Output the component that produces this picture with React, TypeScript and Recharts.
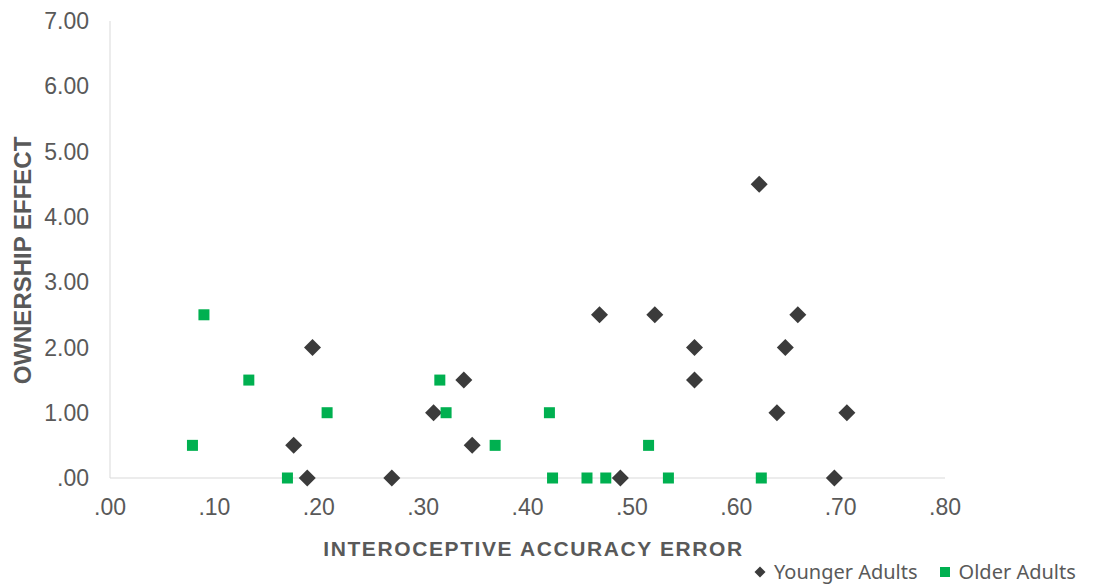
import React from "react";
import { Legend, Scatter, ScatterChart, XAxis, YAxis } from "recharts";

const xTicks = [0, 0.1, 0.2, 0.3, 0.4, 0.5, 0.6, 0.7, 0.8];
const yTicks = [0, 1, 2, 3, 4, 5, 6, 7];

const youngerX = [0.189, 0.176, 0.194, 0.27, 0.31, 0.339, 0.347, 0.469, 0.489, 0.522, 0.56, 0.56, 0.622, 0.639, 0.647, 0.659, 0.694, 0.706];
const youngerY = [0, 0.5, 2, 0, 1, 1.5, 0.5, 2.5, 0, 2.5, 2, 1.5, 4.5, 1, 2, 2.5, 0, 1];

const olderX = [0.079, 0.09, 0.133, 0.17, 0.208, 0.316, 0.322, 0.369, 0.421, 0.424, 0.457, 0.475, 0.516, 0.535, 0.624];
const olderY = [0.5, 2.5, 1.5, 0, 1, 1.5, 1, 0.5, 1, 0, 0, 0, 0.5, 0, 0];

const younger = youngerX.map((x, i) => ({ x, y: youngerY[i] }));
const older = olderX.map((x, i) => ({ x, y: olderY[i] }));

const DARK = "#3b3b3b";
const GREEN = "#00b050";
const TEXT = "#595959";
const FONT = "'Liberation Sans', Arial, sans-serif";

const fmt = (v: number, digits: number) => {
  const s = v.toFixed(digits);
  return s.startsWith("0") ? s.slice(1) : s;
};

const Diamond = (props: any) => {
  const { cx, cy } = props;
  const r = 8.5;
  return <polygon points={`${cx},${cy - r} ${cx + r},${cy} ${cx},${cy + r} ${cx - r},${cy}`} fill={DARK} />;
};

const Square = (props: any) => {
  const { cx, cy } = props;
  const s = 11;
  return <rect x={cx - s / 2} y={cy - s / 2} width={s} height={s} fill={GREEN} />;
};

// rotated y title, sitting a little below the plot's middle like the original
const YTitle = (props: any) => {
  const vb = props.viewBox || {};
  const x = (vb.x || 0) + 22;
  const y = (vb.y || 0) + vb.height / 2 + 11;
  return (
    <text
      x={x}
      y={y}
      transform={`rotate(-90, ${x}, ${y})`}
      textAnchor="middle"
      dominantBaseline="central"
      fontFamily={FONT}
      fontSize={24}
      fontWeight="bold"
      fill={TEXT}
    >
      OWNERSHIP EFFECT
    </text>
  );
};

const LegendContent = () => (
  <div style={{ display: "flex", alignItems: "center", fontFamily: "'Noto Sans', sans-serif", fontSize: 20, color: TEXT, whiteSpace: "nowrap" }}>
    <svg width={12} height={12} style={{ marginRight: 8 }}>
      <polygon points="6,0.5 11.5,6 6,11.5 0.5,6" fill={DARK} />
    </svg>
    <span>Younger Adults</span>
    <svg width={10} height={10} style={{ marginLeft: 22, marginRight: 9 }}>
      <rect x={0} y={0} width={10} height={10} fill={GREEN} />
    </svg>
    <span>Older Adults</span>
  </div>
);

export default function App() {
  const tickStyle = { fontFamily: FONT, fontSize: 23, fill: TEXT };
  return (
    <div style={{ position: "absolute", left: 0, top: 0, background: "#fff" }}>
      <ScatterChart width={1093} height={587} margin={{ top: 21, right: 148, bottom: 0, left: 0 }}>
        <XAxis
          type="number"
          dataKey="x"
          domain={[0, 0.8]}
          ticks={xTicks}
          tickFormatter={(v) => fmt(v, 2)}
          axisLine={{ stroke: "#d9d9d9" }}
          tickLine={false}
          tickSize={0}
          tickMargin={21}
          height={109}
          tick={tickStyle}
          label={{
            value: "INTEROCEPTIVE ACCURACY ERROR",
            position: "insideBottom",
            offset: 31,
            dx: 6,
            style: { fontFamily: FONT, fontSize: 21, fontWeight: "bold", fill: TEXT, letterSpacing: 1.6 },
          }}
        />
        <YAxis
          type="number"
          dataKey="y"
          domain={[0, 7]}
          ticks={yTicks}
          tickFormatter={(v) => fmt(v, 2)}
          axisLine={{ stroke: "#d9d9d9" }}
          tickLine={false}
          tickSize={0}
          tickMargin={21}
          width={110}
          tick={tickStyle}
          label={{ content: <YTitle /> }}
        />
        <Legend
          layout="horizontal"
          verticalAlign="middle"
          align="center"
          content={<LegendContent />}
          wrapperStyle={{ top: 558, left: 754, width: 340 }}
        />
        <Scatter name="Younger Adults" data={younger} shape={<Diamond />} isAnimationActive={false} />
        <Scatter name="Older Adults" data={older} shape={<Square />} isAnimationActive={false} />
      </ScatterChart>
    </div>
  );
}
